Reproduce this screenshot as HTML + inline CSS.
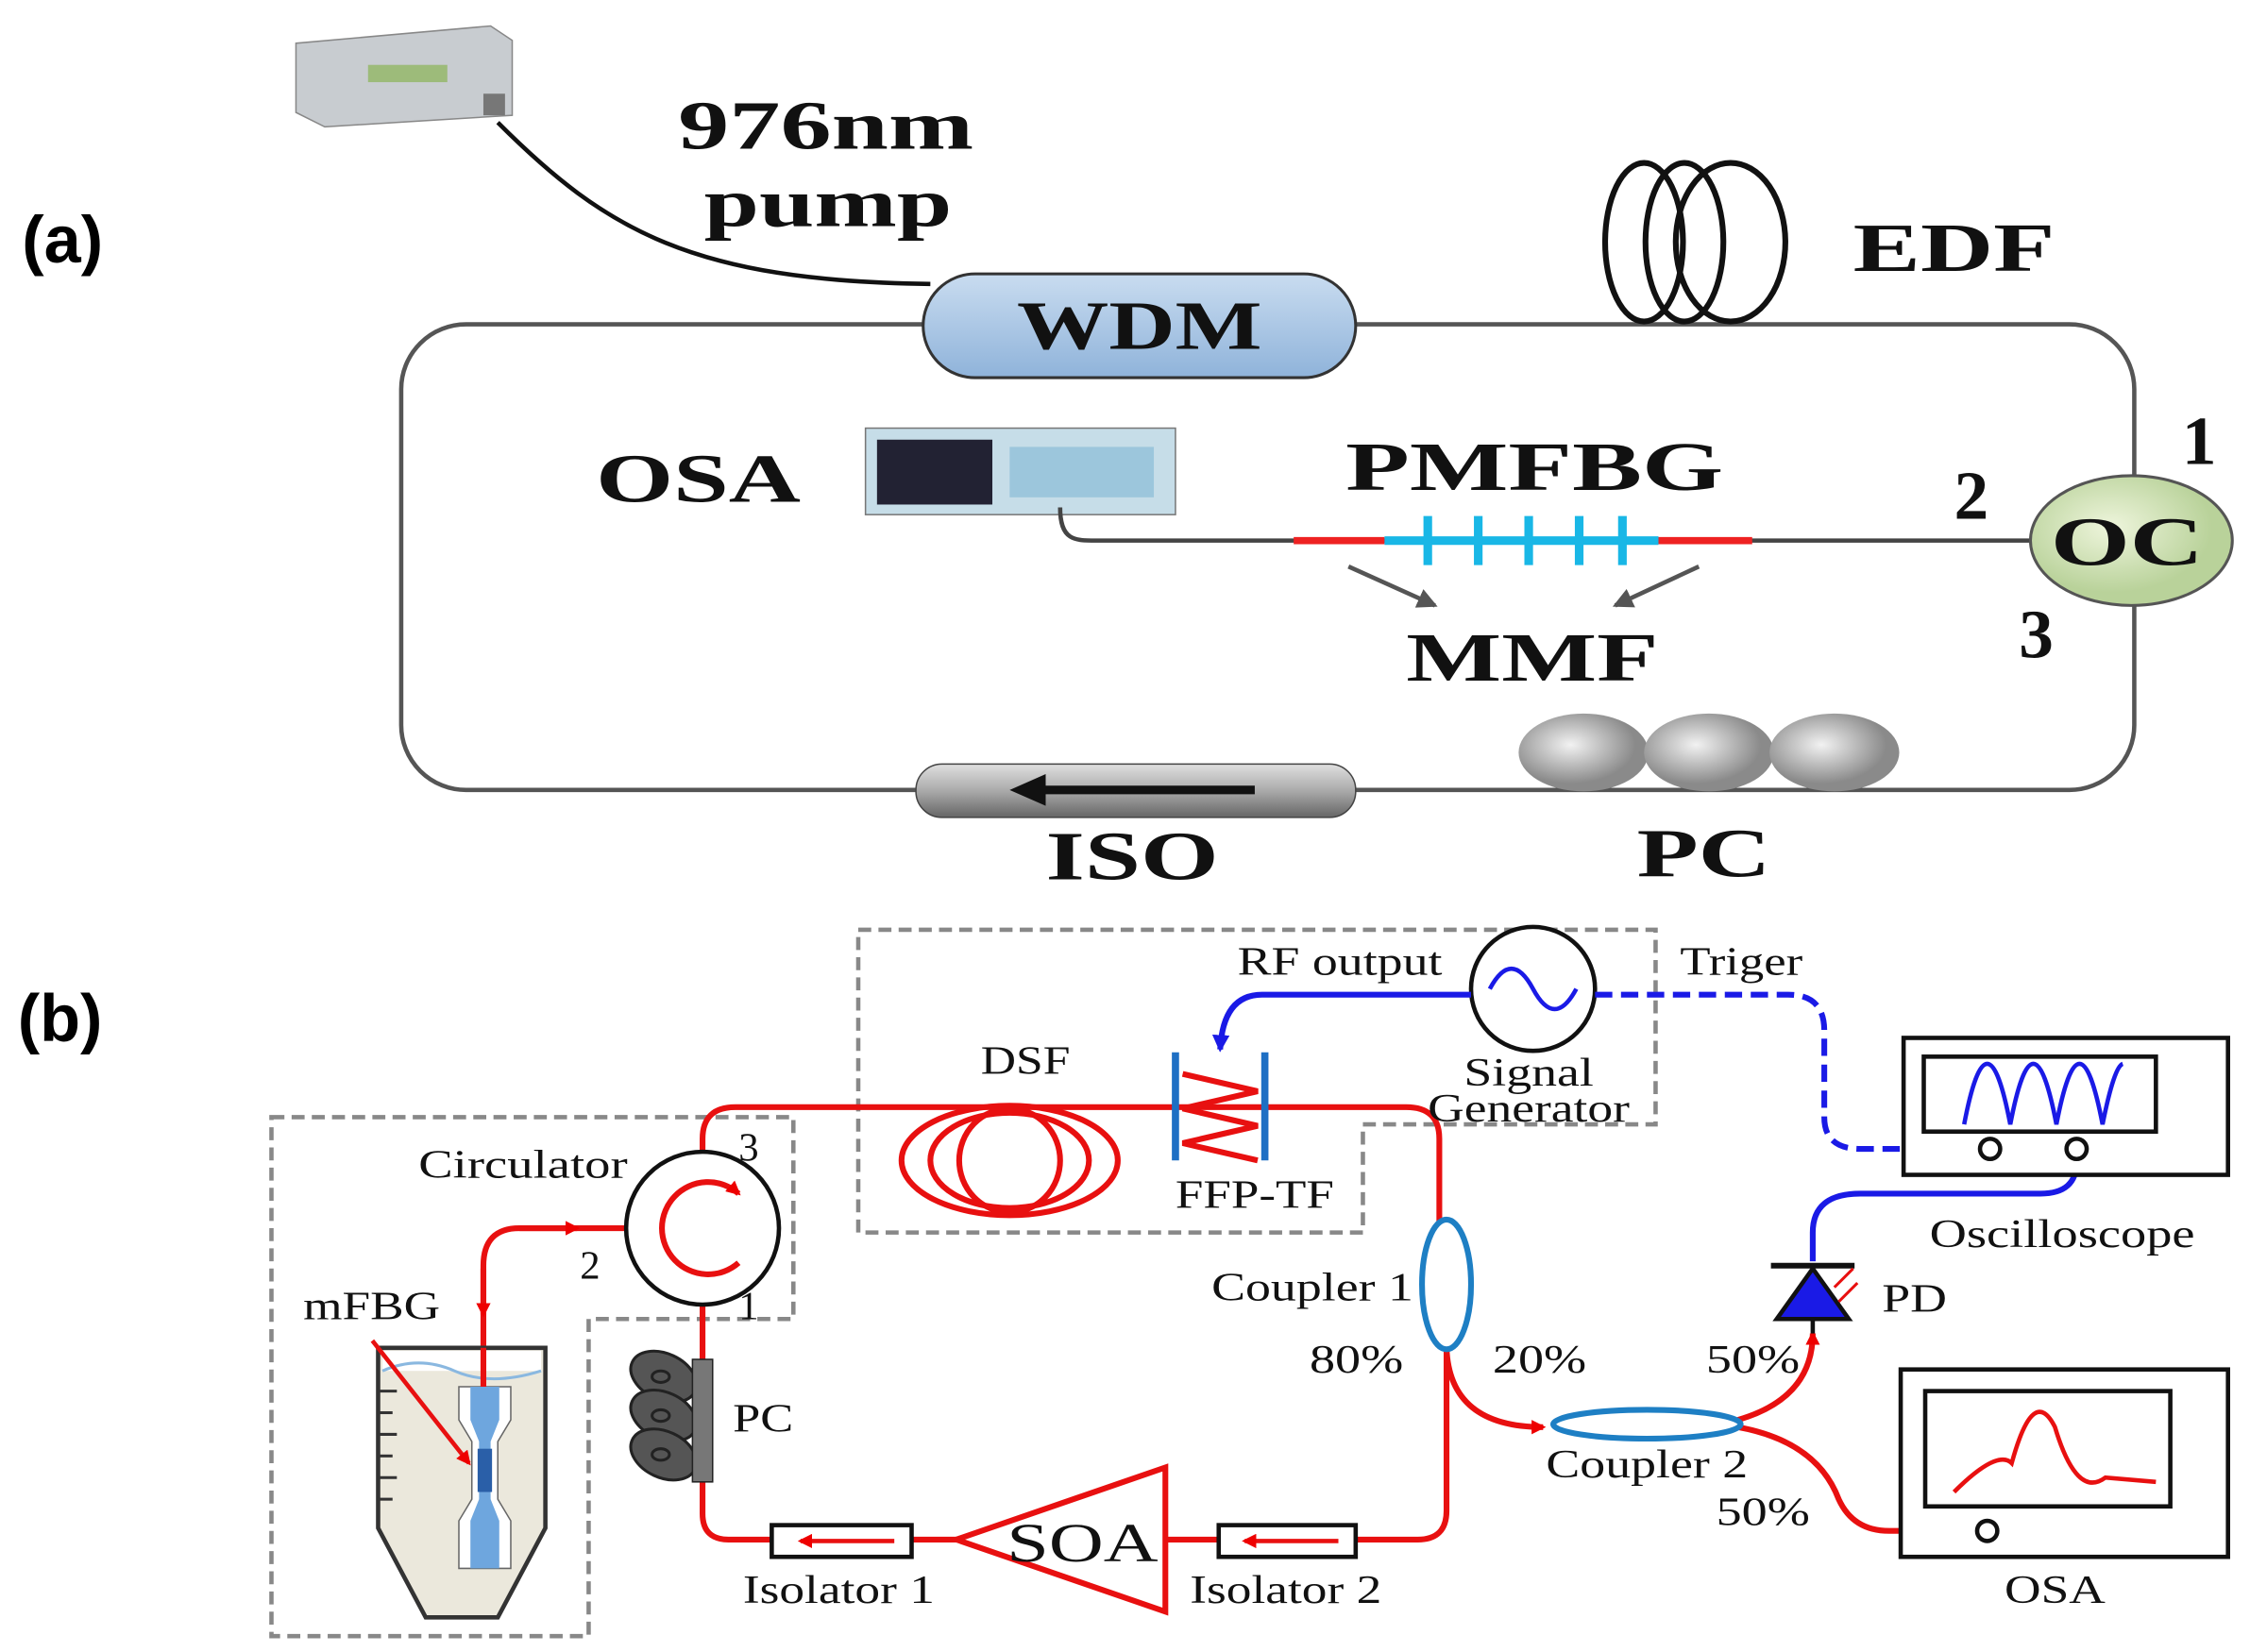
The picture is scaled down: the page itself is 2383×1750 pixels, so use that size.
<!DOCTYPE html>
<html><head><meta charset="utf-8"><style>html,body{margin:0;padding:0;background:#fff}svg{display:block}</style></head>
<body>
<svg width="2383" height="1750" viewBox="0 0 1560 1146" xmlns="http://www.w3.org/2000/svg">
<defs>
<linearGradient id="wdm" x1="0" y1="0" x2="0" y2="1"><stop offset="0" stop-color="#c9dcf0"/><stop offset="1" stop-color="#8fb3da"/></linearGradient>
<radialGradient id="oc" cx="0.4" cy="0.4"><stop offset="0" stop-color="#eef5dc"/><stop offset="1" stop-color="#b9d29a"/></radialGradient>
<radialGradient id="ball" cx="0.4" cy="0.4"><stop offset="0" stop-color="#f2f2f2"/><stop offset="1" stop-color="#8a8a8a"/></radialGradient>
<linearGradient id="iso" x1="0" y1="0" x2="0" y2="1"><stop offset="0" stop-color="#e0e0e0"/><stop offset="0.5" stop-color="#aaa"/><stop offset="1" stop-color="#666"/></linearGradient>
<marker id="ar" markerWidth="10" markerHeight="10" refX="8" refY="5" orient="auto" markerUnits="userSpaceOnUse"><path d="M0,0 L10,5 L0,10 z" fill="#e00"/></marker>
<marker id="ab" markerWidth="12" markerHeight="12" refX="10" refY="6" orient="auto" markerUnits="userSpaceOnUse"><path d="M0,0 L12,6 L0,12 z" fill="#1a1ae6"/></marker>
<marker id="ag" markerWidth="14" markerHeight="14" refX="12" refY="7" orient="auto" markerUnits="userSpaceOnUse"><path d="M0,0 L14,7 L0,14 z" fill="#555"/></marker>
</defs>
<g font-family="Liberation Sans, sans-serif" font-weight="bold" font-size="46">
<text x="15" y="182">(a)</text><text x="12" y="722">(b)</text></g>

<!-- (a) -->
<rect x="278" y="225" width="1202" height="323" rx="45" fill="none" stroke="#555" stroke-width="3"/>
<path d="M345,85 C420,160 480,195 645,197" fill="none" stroke="#111" stroke-width="3"/>
<path d="M205,30 L340,18 L355,28 L355,80 L225,88 L205,78 Z" fill="#c8ccd0" stroke="#888"/>
<rect x="255" y="45" width="55" height="12" fill="#9dbb7a"/>
<rect x="335" y="65" width="15" height="15" fill="#777"/>
<g font-family="Liberation Serif, serif" font-weight="bold" font-size="48" fill="#111">
<text x="470" y="103" textLength="205" lengthAdjust="spacingAndGlyphs">976nm</text><text x="488" y="157" textLength="172" lengthAdjust="spacingAndGlyphs">pump</text>
<rect x="640" y="190" width="300" height="72" rx="36" fill="url(#wdm)" stroke="#333" stroke-width="2"/>
<text x="705" y="242" textLength="170" lengthAdjust="spacingAndGlyphs">WDM</text>
<g fill="none" stroke="#111" stroke-width="4"><ellipse cx="1140" cy="168" rx="27" ry="55"/><ellipse cx="1168" cy="168" rx="27" ry="55"/><ellipse cx="1200" cy="168" rx="38" ry="55"/></g>
<text x="1285" y="188" textLength="140" lengthAdjust="spacingAndGlyphs">EDF</text>
<rect x="600" y="297" width="215" height="60" fill="#c6dde8" stroke="#777"/>
<rect x="608" y="305" width="80" height="45" fill="#223"/>
<rect x="700" y="310" width="100" height="35" fill="#9cc6dc"/>
<path d="M735,352 C735,375 745,375 760,375 L1408,375" fill="none" stroke="#444" stroke-width="3"/>
<text x="413" y="348" textLength="142" lengthAdjust="spacingAndGlyphs">OSA</text>
<line x1="897" y1="375" x2="960" y2="375" stroke="#e22" stroke-width="5"/>
<line x1="1150" y1="375" x2="1215" y2="375" stroke="#e22" stroke-width="5"/>
<line x1="960" y1="375" x2="1150" y2="375" stroke="#19b7e6" stroke-width="6"/>
<g stroke="#19b7e6" stroke-width="6"><line x1="990" y1="358" x2="990" y2="392"/><line x1="1025" y1="358" x2="1025" y2="392"/><line x1="1060" y1="358" x2="1060" y2="392"/><line x1="1095" y1="358" x2="1095" y2="392"/><line x1="1125" y1="358" x2="1125" y2="392"/></g>
<text x="933" y="340" textLength="262" lengthAdjust="spacingAndGlyphs">PMFBG</text>
<line x1="935" y1="393" x2="995" y2="420" stroke="#555" stroke-width="3" marker-end="url(#ag)"/>
<line x1="1178" y1="393" x2="1120" y2="420" stroke="#555" stroke-width="3" marker-end="url(#ag)"/>
<text x="975" y="472" textLength="175" lengthAdjust="spacingAndGlyphs">MMF</text>
<ellipse cx="1478" cy="375" rx="70" ry="45" fill="url(#oc)" stroke="#555" stroke-width="2"/>
<text x="1422" y="392" textLength="106" lengthAdjust="spacingAndGlyphs">OC</text>
<text x="1513" y="322">1</text><text x="1355" y="360">2</text><text x="1400" y="456">3</text>
<ellipse cx="1098" cy="522" rx="45" ry="27" fill="url(#ball)"/><ellipse cx="1185" cy="522" rx="45" ry="27" fill="url(#ball)"/><ellipse cx="1272" cy="522" rx="45" ry="27" fill="url(#ball)"/>
<rect x="635" y="530" width="305" height="37" rx="18" fill="url(#iso)" stroke="#444"/>
<line x1="870" y1="548" x2="720" y2="548" stroke="#111" stroke-width="6"/><path d="M700,548 L725,537 L725,559 z" fill="#111"/>
<text x="725" y="610" textLength="120" lengthAdjust="spacingAndGlyphs">ISO</text><text x="1135" y="608" textLength="93" lengthAdjust="spacingAndGlyphs">PC</text>
</g>

<!-- (b) -->
<g fill="none" stroke="#888" stroke-width="3" stroke-dasharray="9,5">
<path d="M595,645 H1148 V780 H945 V855 H595 Z"/>
<path d="M188,775 H550 V915 H408 V1135 H188 Z"/></g>
<g fill="none" stroke="#e81010" stroke-width="4">
<path d="M487,800 V790 Q487,768 510,768 H975 Q998,768 998,790 V848"/>
<path d="M1003,935 V1048 Q1003,1068 983,1068 H940"/>
<line x1="845" y1="1068" x2="808" y2="1068"/>
<line x1="663" y1="1068" x2="632" y2="1068"/>
<path d="M535,1068 H505 Q487,1068 487,1050 V905"/>
<path d="M435,852 H360 Q335,852 335,878 V935"/>
<path d="M1003,935 Q1005,990 1070,990" marker-end="url(#ar)"/>
<path d="M1205,985 Q1257,970 1257,925" marker-end="url(#ar)"/>
<path d="M1205,990 Q1260,1000 1275,1040 Q1285,1062 1310,1062 H1365" marker-end="url(#ar)"/>
<ellipse cx="700" cy="805" rx="75" ry="38"/><ellipse cx="700" cy="805" rx="55" ry="33"/><ellipse cx="700" cy="805" rx="35" ry="36"/>
<path d="M820,745 L872,757 L820,769 L872,781 L820,793 L872,805"/>
</g>
<line x1="360" y1="852" x2="400" y2="852" stroke="#e81010" stroke-width="4" marker-end="url(#ar)"/>
<line x1="335" y1="880" x2="335" y2="912" stroke="#e81010" stroke-width="4" marker-end="url(#ar)"/>
<ellipse cx="1003" cy="891" rx="17" ry="45" fill="none" stroke="#1e7fc4" stroke-width="4"/>
<ellipse cx="1142" cy="988" rx="65" ry="10" fill="none" stroke="#1e7fc4" stroke-width="4"/>
<g stroke="#1e6fc4" stroke-width="5"><line x1="815" y1="730" x2="815" y2="805"/><line x1="877" y1="730" x2="877" y2="805"/></g>
<circle cx="487" cy="852" r="53" fill="#fff" stroke="#111" stroke-width="3"/>
<path d="M512,876 A32,32 0 1 1 512,828" fill="none" stroke="#e81010" stroke-width="4" marker-end="url(#ar)"/>
<g fill="#fff" stroke="#111" stroke-width="3"><rect x="535" y="1058" width="97" height="22"/><rect x="845" y="1058" width="95" height="22"/></g>
<line x1="620" y1="1069" x2="555" y2="1069" stroke="#e81010" stroke-width="3" marker-end="url(#ar)"/>
<line x1="928" y1="1069" x2="863" y2="1069" stroke="#e81010" stroke-width="3" marker-end="url(#ar)"/>
<path d="M663,1068 L808,1018 L808,1118 Z" fill="#fff" stroke="#e81010" stroke-width="4"/>
<g fill="#555" stroke="#222" stroke-width="2"><ellipse cx="460" cy="955" rx="24" ry="16" transform="rotate(25 460 955)"/><ellipse cx="460" cy="982" rx="24" ry="16" transform="rotate(25 460 982)"/><ellipse cx="460" cy="1009" rx="24" ry="16" transform="rotate(25 460 1009)"/></g>
<g fill="none" stroke="#222" stroke-width="2"><ellipse cx="458" cy="955" rx="6" ry="4"/><ellipse cx="458" cy="982" rx="6" ry="4"/><ellipse cx="458" cy="1009" rx="6" ry="4"/></g>
<rect x="480" y="943" width="14" height="85" fill="#777" stroke="#222"/>
<path d="M262,935 H378 V1060 L345,1122 H295 L262,1060 Z" fill="#ebe8dc" stroke="#333" stroke-width="3"/>
<rect x="265" y="937" width="110" height="14" fill="#fff"/>
<path d="M265,951 Q290,940 315,951 T375,951" fill="none" stroke="#8ab8e0" stroke-width="2"/>
<path d="M318,962 H354 V985 L345,1000 V1040 L354,1055 V1088 H318 V1055 L327,1040 V1000 L318,985 Z" fill="#fff" stroke="#666"/>
<path d="M326,962 H346 V985 L340,1000 V1040 L346,1055 V1088 H326 V1055 L332,1040 V1000 L326,985 Z" fill="#6ea6de"/>
<rect x="331" y="1005" width="10" height="30" fill="#2a5fa8"/>
<line x1="335" y1="935" x2="335" y2="962" stroke="#e81010" stroke-width="4"/>
<line x1="258" y1="930" x2="325" y2="1015" stroke="#e81010" stroke-width="3" marker-end="url(#ar)"/>
<g stroke="#333" stroke-width="2"><line x1="262" y1="965" x2="275" y2="965"/><line x1="262" y1="980" x2="272" y2="980"/><line x1="262" y1="995" x2="275" y2="995"/><line x1="262" y1="1010" x2="272" y2="1010"/><line x1="262" y1="1025" x2="275" y2="1025"/><line x1="262" y1="1040" x2="272" y2="1040"/></g>
<circle cx="1063" cy="686" r="43" fill="#fff" stroke="#111" stroke-width="3"/>
<path d="M1033,686 Q1048,658 1063,686 Q1078,714 1093,686" fill="none" stroke="#1a1ae6" stroke-width="3"/>
<path d="M1020,690 H875 Q848,690 846,728" fill="none" stroke="#1a1ae6" stroke-width="4" marker-end="url(#ab)"/>
<path d="M1106,690 H1240 Q1265,690 1265,715 V775 Q1265,797 1290,797 H1368" fill="none" stroke="#1a1ae6" stroke-width="4" stroke-dasharray="12,6" marker-end="url(#ab)"/>
<path d="M1257,875 V855 Q1257,828 1290,828 H1415 Q1440,828 1440,806" fill="none" stroke="#1a1ae6" stroke-width="4" marker-end="url(#ab)"/>
<path d="M1232,915 H1282 L1257,880 Z" fill="#1a1ae6" stroke="#111" stroke-width="3"/><line x1="1228" y1="878" x2="1286" y2="878" stroke="#111" stroke-width="4"/>
<line x1="1257" y1="915" x2="1257" y2="925" stroke="#111" stroke-width="3"/>
<g stroke="#e81010" stroke-width="2"><line x1="1285" y1="880" x2="1272" y2="893"/><line x1="1288" y1="890" x2="1275" y2="903"/></g>
<g fill="#fff" stroke="#111" stroke-width="3"><rect x="1320" y="720" width="225" height="95"/><rect x="1334" y="733" width="161" height="52"/>
<rect x="1318" y="950" width="227" height="130"/><rect x="1335" y="965" width="170" height="80"/>
<circle cx="1380" cy="797" r="7"/><circle cx="1440" cy="797" r="7"/><circle cx="1378" cy="1062" r="7"/></g>
<path d="M1362,780 Q1378,696 1394,780 Q1410,696 1426,780 Q1442,696 1458,780 Q1466,740 1472,738" fill="none" stroke="#1a1ae6" stroke-width="3"/>
<path d="M1355,1035 Q1385,1005 1395,1015 Q1410,960 1425,990 Q1440,1040 1460,1025 L1495,1028" fill="none" stroke="#e81010" stroke-width="3"/>
<g font-family="Liberation Serif, serif" font-size="28" fill="#111">
<text x="858" y="676" textLength="142" lengthAdjust="spacingAndGlyphs">RF output</text><text x="1165" y="676" textLength="85" lengthAdjust="spacingAndGlyphs">Triger</text>
<text x="1015" y="753" textLength="90" lengthAdjust="spacingAndGlyphs">Signal</text><text x="990" y="778" textLength="140" lengthAdjust="spacingAndGlyphs">Generator</text>
<text x="680" y="745" textLength="62" lengthAdjust="spacingAndGlyphs">DSF</text><text x="815" y="838" textLength="110" lengthAdjust="spacingAndGlyphs">FFP-TF</text>
<text x="290" y="817" textLength="145" lengthAdjust="spacingAndGlyphs">Circulator</text><text x="512" y="805">3</text><text x="402" y="887">2</text><text x="512" y="915">1</text>
<text x="210" y="915" textLength="95" lengthAdjust="spacingAndGlyphs">mFBG</text><text x="508" y="993" textLength="42" lengthAdjust="spacingAndGlyphs">PC</text>
<text x="840" y="902" textLength="140" lengthAdjust="spacingAndGlyphs">Coupler 1</text><text x="908" y="952" textLength="65" lengthAdjust="spacingAndGlyphs">80%</text><text x="1035" y="952" textLength="65" lengthAdjust="spacingAndGlyphs">20%</text><text x="1183" y="952" textLength="65" lengthAdjust="spacingAndGlyphs">50%</text>
<text x="1305" y="910" textLength="45" lengthAdjust="spacingAndGlyphs">PD</text><text x="1338" y="865" textLength="184" lengthAdjust="spacingAndGlyphs">Oscilloscope</text><text x="1072" y="1025" textLength="140" lengthAdjust="spacingAndGlyphs">Coupler 2</text><text x="1190" y="1058" textLength="65" lengthAdjust="spacingAndGlyphs">50%</text>
<text x="515" y="1112" textLength="133" lengthAdjust="spacingAndGlyphs">Isolator 1</text><text x="825" y="1112" textLength="133" lengthAdjust="spacingAndGlyphs">Isolator 2</text><text x="1390" y="1112" textLength="70" lengthAdjust="spacingAndGlyphs">OSA</text>
<text x="698" y="1083" font-size="38" textLength="105" lengthAdjust="spacingAndGlyphs">SOA</text></g>
</svg>
</body></html>
